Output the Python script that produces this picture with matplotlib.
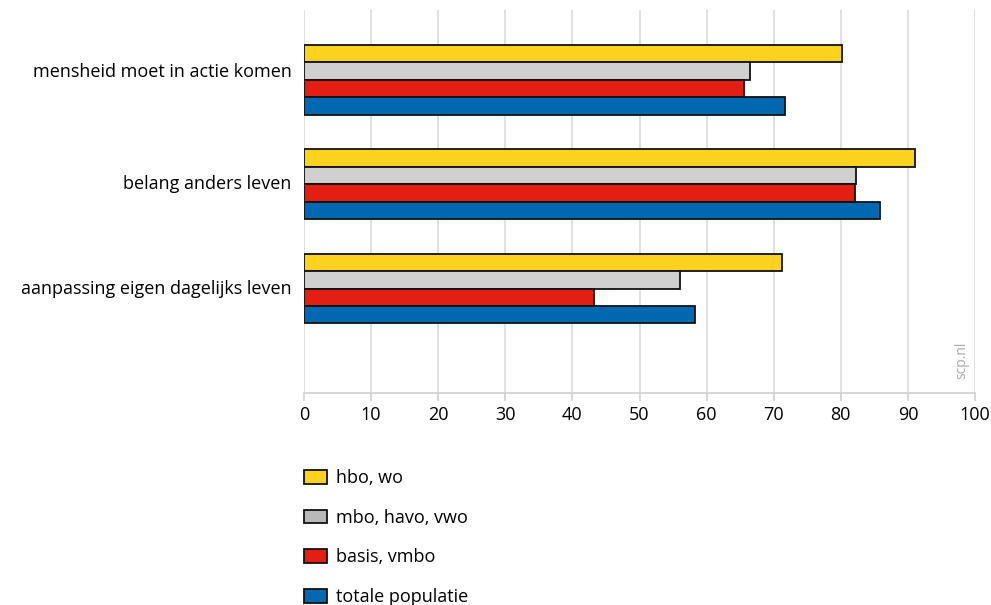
import numpy as np
from matplotlib import pyplot as plt
from matplotlib.patches import Patch
import matplotlib.transforms as mtransforms

plt.rcParams['font.family'] = ['Open Sans', 'DejaVu Sans']

categories = ['mensheid moet in actie komen', 'belang anders leven', 'aanpassing eigen dagelijks leven']
series = ['hbo, wo', 'mbo, havo, vwo', 'basis, vmbo', 'totale populatie']
hbo_wo = [80.2, 91.1, 71.2]
mbo_havo_vwo = [66.4, 82.3, 56.0]
basis_vmbo = [65.5, 82.1, 43.2]
totale_populatie = [71.7, 85.9, 58.2]
values = [hbo_wo, mbo_havo_vwo, basis_vmbo, totale_populatie]

colors = ['#FDD21F', '#D0D0D0', '#E31E12', '#0067B1']
legend_colors = ['#FDD21F', '#B8B8B8', '#E31E12', '#0067B1']

fig = plt.figure(figsize=(9.91, 6.05), dpi=100)
ax = fig.add_axes([304/991, 1-393/605, (975-304)/991, (393-10)/605])

h = 0.167
y = np.arange(len(categories))
for k, (vals, c) in enumerate(zip(values, colors)):
    offs = (k - 1.5) * h
    ax.barh(y + offs, vals, height=h, color=c, edgecolor='#111111', linewidth=1.3, zorder=3)

ax.set_xlim(0, 100)
ax.set_ylim(3.0, -0.67)
ax.set_xticks(np.arange(0, 101, 10))
ax.set_yticks(y)
ax.set_yticklabels(categories, fontsize=13)
ax.tick_params(axis='y', length=0, pad=9)
ax.tick_params(axis='x', length=6, color='#D0D0D0', width=1.2, labelsize=13, pad=3)
ax.grid(axis='x', color='#DDDDDD', linewidth=1.3, zorder=0)
for s in ['top', 'right', 'left']:
    ax.spines[s].set_visible(False)
ax.spines['bottom'].set_color('#D0D0D0')
ax.spines['bottom'].set_linewidth(1.2)

# labels sit a little above the group centre in the original (first one more so)
for lab, dy in zip(ax.get_yticklabels(), [10, 2, 2]):
    lab.set_transform(lab.get_transform() + mtransforms.ScaledTranslation(0, dy/100, fig.dpi_scale_trans))

fig.text(962/991, 1-360/605, 'scp.nl', rotation=90, color='#AAAAAA', fontsize=10,
         ha='center', va='center')

handles = [Patch(facecolor=c, edgecolor='#111111', linewidth=1.3) for c in legend_colors]
fig.legend(handles, series, loc='upper left', bbox_to_anchor=(304/991, 1-469/605),
           frameon=False, fontsize=13, handlelength=1.25, handleheight=0.78,
           labelspacing=1.2, handletextpad=0.55, borderpad=0, borderaxespad=0)

fig.savefig('out.png', dpi=100)
